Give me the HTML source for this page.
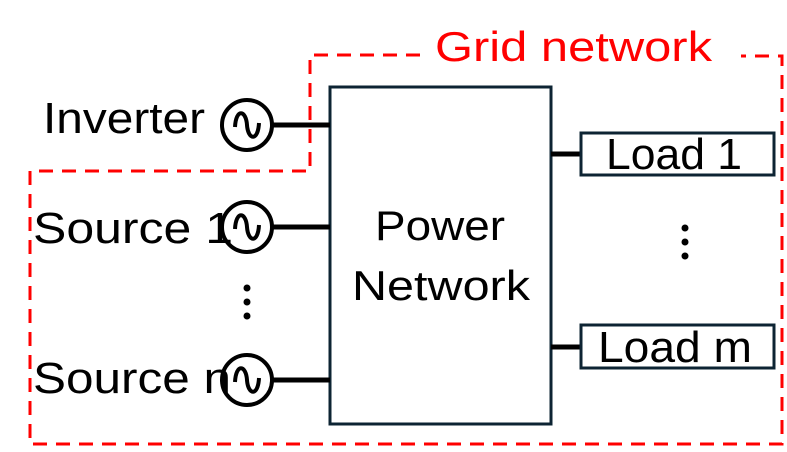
<!DOCTYPE html>
<html><head><style>body{margin:0;background:#fff}</style></head><body>
<svg width="787" height="447" xmlns="http://www.w3.org/2000/svg" font-family="Liberation Sans, sans-serif">
<path d="M420,55 H310 V171 H30 V444 H782 V56 H741" fill="none" stroke="#f00" stroke-width="3" stroke-dasharray="14,9"/>
<text x="435" y="61" font-size="42" fill="#f00" textLength="277" lengthAdjust="spacingAndGlyphs">Grid network</text>
<rect x="330" y="87" width="221" height="337" fill="#fff" stroke="#0d2433" stroke-width="3"/>
<text x="375" y="240" font-size="42" textLength="130" lengthAdjust="spacingAndGlyphs">Power</text>
<text x="352" y="300" font-size="42" textLength="178" lengthAdjust="spacingAndGlyphs">Network</text>
<g stroke="#000" stroke-width="5">
<line x1="273" y1="125" x2="330" y2="125"/><line x1="273" y1="227" x2="330" y2="227"/><line x1="273" y1="380" x2="330" y2="380"/>
<line x1="551" y1="154" x2="580" y2="154"/><line x1="551" y1="347" x2="580" y2="347"/>
</g>
<g fill="none" stroke="#000" stroke-width="4">
<circle cx="247" cy="125" r="25"/><circle cx="247" cy="227" r="25"/><circle cx="247" cy="380" r="25"/>
<path d="M235,127 C236,108 246,110 247,125 C248,140 258,142 259,123"/>
<path d="M235,229 C236,210 246,212 247,227 C248,242 258,244 259,225"/>
<path d="M235,382 C236,363 246,365 247,380 C248,395 258,397 259,378"/>
</g>
<rect x="581" y="133" width="193" height="42" fill="#fff" stroke="#0d2433" stroke-width="3"/>
<rect x="581" y="325" width="193" height="43" fill="#fff" stroke="#0d2433" stroke-width="3"/>
<g font-size="44">
<text x="606" y="169" textLength="136" lengthAdjust="spacingAndGlyphs">Load 1</text>
<text x="598" y="362" textLength="154" lengthAdjust="spacingAndGlyphs">Load m</text>
<text x="43" y="133" textLength="162" lengthAdjust="spacingAndGlyphs">Inverter</text>
<text x="33" y="243" textLength="200" lengthAdjust="spacingAndGlyphs">Source 1</text>
<text x="33" y="393" textLength="198" lengthAdjust="spacingAndGlyphs">Source n</text>
</g>
<g fill="#000"><circle cx="685" cy="228" r="3.5"/><circle cx="685" cy="242" r="3.5"/><circle cx="685" cy="256" r="3.5"/>
<circle cx="247" cy="288" r="3.5"/><circle cx="247" cy="302" r="3.5"/><circle cx="247" cy="316" r="3.5"/></g>
</svg>
</body></html>
